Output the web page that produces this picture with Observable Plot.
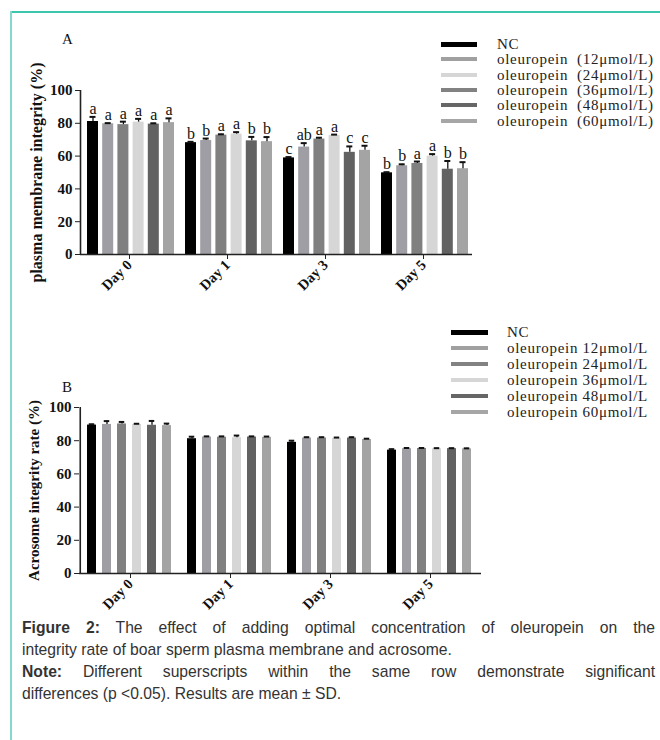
<!DOCTYPE html>
<html><head><meta charset="utf-8">
<script src="https://cdn.jsdelivr.net/npm/d3@7"></script>
<script src="https://cdn.jsdelivr.net/npm/@observablehq/plot@0.6"></script>
<style>
body{margin:0;background:#fff;}
#page{position:relative;width:660px;height:740px;overflow:hidden;font-family:"Liberation Serif",serif;color:#111;}
.abs{position:absolute;}
.panel{font-family:"Liberation Serif",serif;font-size:15px;}
.leg{position:absolute;font-family:"Liberation Serif",serif;font-size:15px;line-height:15px;letter-spacing:0.7px;color:#222;white-space:pre;}
.sw{position:absolute;height:5px;}
.cap{position:absolute;left:22px;width:633px;font-family:"Liberation Sans",Arial,sans-serif;font-size:15.7px;color:#333;line-height:22px;}
.cap div{height:22px;white-space:nowrap;}
.cap .j{text-align:justify;text-align-last:justify;white-space:normal;}
</style></head><body><div id="page"></div>
<script>
// ---- data ----
const days = ["Day 0", "Day 1", "Day 3", "Day 5"];
const series = ["NC", "12", "24", "36", "48", "60"];
// panel A: plasma membrane integrity (%), rows = days, cols = series
const pmMean = [
  [81.1, 79.7, 79.2, 80.7, 79.5, 80.4],
  [68.2, 69.5, 72.8, 73.4, 69.3, 68.8],
  [58.9, 65.5, 70.4, 72.6, 62.3, 63.5],
  [49.8, 54.1, 55.5, 60.0, 52.0, 52.3]
];
const pmSD = [
  [2.8, 0.4, 1.8, 2.0, 0.5, 2.6],
  [0.5, 1.2, 0.5, 1.2, 2.4, 2.8],
  [0.5, 2.4, 0.8, 0.5, 3.6, 2.8],
  [0.4, 0.9, 1.2, 1.2, 5.0, 4.0]
];
const pmSig = [
  ["a", "a", "a", "a", "a", "a"],
  ["b", "b", "a", "a", "b", "b"],
  ["c", "ab", "a", "a", "c", "c"],
  ["b", "b", "a", "a", "b", "b"]
];
// panel B: acrosome integrity rate (%)
const arMean = [
  [89.4, 89.8, 90.1, 89.8, 89.3, 89.1],
  [81.2, 82.2, 82.1, 81.8, 82.2, 82.0],
  [79.0, 81.6, 81.6, 81.4, 81.6, 80.7],
  [74.3, 75.2, 75.3, 75.2, 75.2, 75.1]
];
const arSD = [
  [0.5, 2.0, 1.2, 0.4, 2.6, 1.2],
  [1.2, 0.4, 0.5, 1.3, 0.4, 0.5],
  [1.0, 0.5, 0.5, 0.5, 0.5, 0.5],
  [0.6, 0.4, 0.3, 0.3, 0.3, 0.3]
];
const yTicks = [0, 20, 40, 60, 80, 100];
const legendA = ["NC", "oleuropein  (12μmol/L)", "oleuropein  (24μmol/L)", "oleuropein  (36μmol/L)", "oleuropein  (48μmol/L)", "oleuropein  (60μmol/L)"];
const legendB = ["NC", "oleuropein 12μmol/L", "oleuropein 24μmol/L", "oleuropein 36μmol/L", "oleuropein 48μmol/L", "oleuropein 60μmol/L"];

// ---- styles ----
const barColors = ["#000000", "#9e9ea4", "#808080", "#d6d6d6", "#626262", "#a4a4a4"];
const legendAColors = ["#000000", "#a0a0a0", "#d6d6d6", "#828282", "#666666", "#a6a6a6"];
const legendBColors = ["#000000", "#a0a0a0", "#828282", "#d6d6d6", "#666666", "#a6a6a6"];

function rowsOf(mean, sd, sig) {
  return days.flatMap((d, i) => series.map((s, j) => ({day: d, s, j, v: mean[i][j], sd: sd[i][j], sig: sig ? sig[i][j] : ""})));
}

function panel(rows, o) {
  const bw = (o.width - o.ml - o.mr) / days.length;
  const L = j => o.pad + j * o.step;
  const marks = [];
  series.forEach((s, j) => {
    const r = rows.filter(d => d.j === j);
    const cx = L(j) + o.barW / 2;
    marks.push(Plot.barY(r, {x: "day", y: "v", fill: "s", insetLeft: L(j), insetRight: bw - L(j) - o.barW}));
    marks.push(Plot.ruleX(r, {x: "day", y1: "v", y2: d => d.v + d.sd, dx: cx - bw / 2, stroke: "#111", strokeWidth: 1.3}));
    marks.push(Plot.tickY(r, {x: "day", y: d => d.v + d.sd, insetLeft: cx - 3, insetRight: bw - cx - 3, stroke: "#111", strokeWidth: 2}));
    if (o.letters) marks.push(Plot.text(r, {x: "day", y: d => d.v + d.sd, text: "sig", dx: cx - bw / 2, dy: -3, lineAnchor: "bottom", fontSize: 16, fontWeight: "normal", fill: "#111"}));
  });
  marks.push(Plot.ruleY([0], {stroke: "#222", strokeWidth: 1.6}));
  marks.push(Plot.ruleX([days[0]], {dx: -bw / 2, stroke: "#222", strokeWidth: 1.6}));
  marks.push(Plot.axisY({ticks: yTicks, tickSize: 5, tickPadding: 3, fontSize: 15, fontWeight: "bold", stroke: "#222", fill: "#111",
    label: o.label, labelAnchor: "center", labelArrow: false, labelOffset: o.labelOffset}));
  marks.push(Plot.axisX({tickRotate: -45, tickSize: 5, tickPadding: 3, fontSize: 14.5, fontWeight: "bold", stroke: "#222", fill: "#111", label: null}));
  return Plot.plot({
    width: o.width, height: o.height,
    marginLeft: o.ml, marginRight: o.mr, marginTop: o.mt, marginBottom: o.mb,
    style: {fontFamily: "Liberation Serif, serif", background: "transparent", color: "#111", overflow: "visible"},
    x: {type: "band", domain: days, padding: 0},
    y: {domain: [0, 100]},
    color: {domain: series, range: barColors},
    marks
  });
}

const page = document.getElementById("page");
function addDiv(cls, css, text) {
  const d = document.createElement("div");
  d.className = cls;
  Object.assign(d.style, css);
  if (text != null) d.textContent = text;
  page.appendChild(d);
  return d;
}

// frame lines
addDiv("abs", {left: "10px", top: "11px", width: "650px", height: "2px", background: "#3cc6ae"});
addDiv("abs", {left: "10px", top: "11px", width: "2px", height: "729px", background: "#86d8cc"});

// panel labels
addDiv("abs panel", {left: "62px", top: "31px"}, "A");
addDiv("abs panel", {left: "62px", top: "379px"}, "B");

// charts
const svgA = panel(rowsOf(pmMean, pmSD, pmSig), {width: 490, height: 258, ml: 80, mr: 18, mt: 32, mb: 62, pad: 7, step: 15.2, barW: 11, letters: true, label: "plasma membrane integrity (%)", labelOffset: 50});
const wA = addDiv("abs", {left: "0px", top: "58px"});
wA.appendChild(svgA);
svgA.querySelectorAll("text").forEach(t => { if (t.textContent.startsWith("plasma")) t.setAttribute("font-size", "16"); });

const svgB = panel(rowsOf(arMean, arSD, null), {width: 502, height: 240, ml: 79, mr: 21, mt: 32, mb: 42, pad: 7, step: 15, barW: 9.5, letters: false, label: "Acrosome integrity rate (%)", labelOffset: 51});
const wB = addDiv("abs", {left: "0px", top: "375px"});
wB.appendChild(svgB);

// legends
legendA.forEach((t, i) => {
  const y = 37 + i * 15.3;
  addDiv("sw", {left: "441px", top: (y + 5) + "px", width: "36px", height: (i === 0 ? 5 : 4) + "px", background: legendAColors[i]});
  addDiv("leg", {left: "497px", top: y + "px"}, t);
});
legendB.forEach((t, i) => {
  const y = 325 + i * 16;
  addDiv("sw", {left: "451px", top: (y + 5) + "px", width: "37px", height: (i === 0 ? 5 : 4) + "px", background: legendBColors[i]});
  addDiv("leg", {left: "507px", top: y + "px"}, t);
});

// caption
const cap = addDiv("cap", {top: "617px"});
cap.innerHTML =
  '<div class="j"><b>Figure 2:</b> The effect of adding optimal concentration of oleuropein on the</div>' +
  '<div>integrity rate of boar sperm plasma membrane and acrosome.</div>' +
  '<div class="j"><b>Note:</b> Different superscripts within the same row demonstrate significant</div>' +
  '<div>differences (p &lt;0.05). Results are mean ± SD.</div>';
</script>
</body></html>
